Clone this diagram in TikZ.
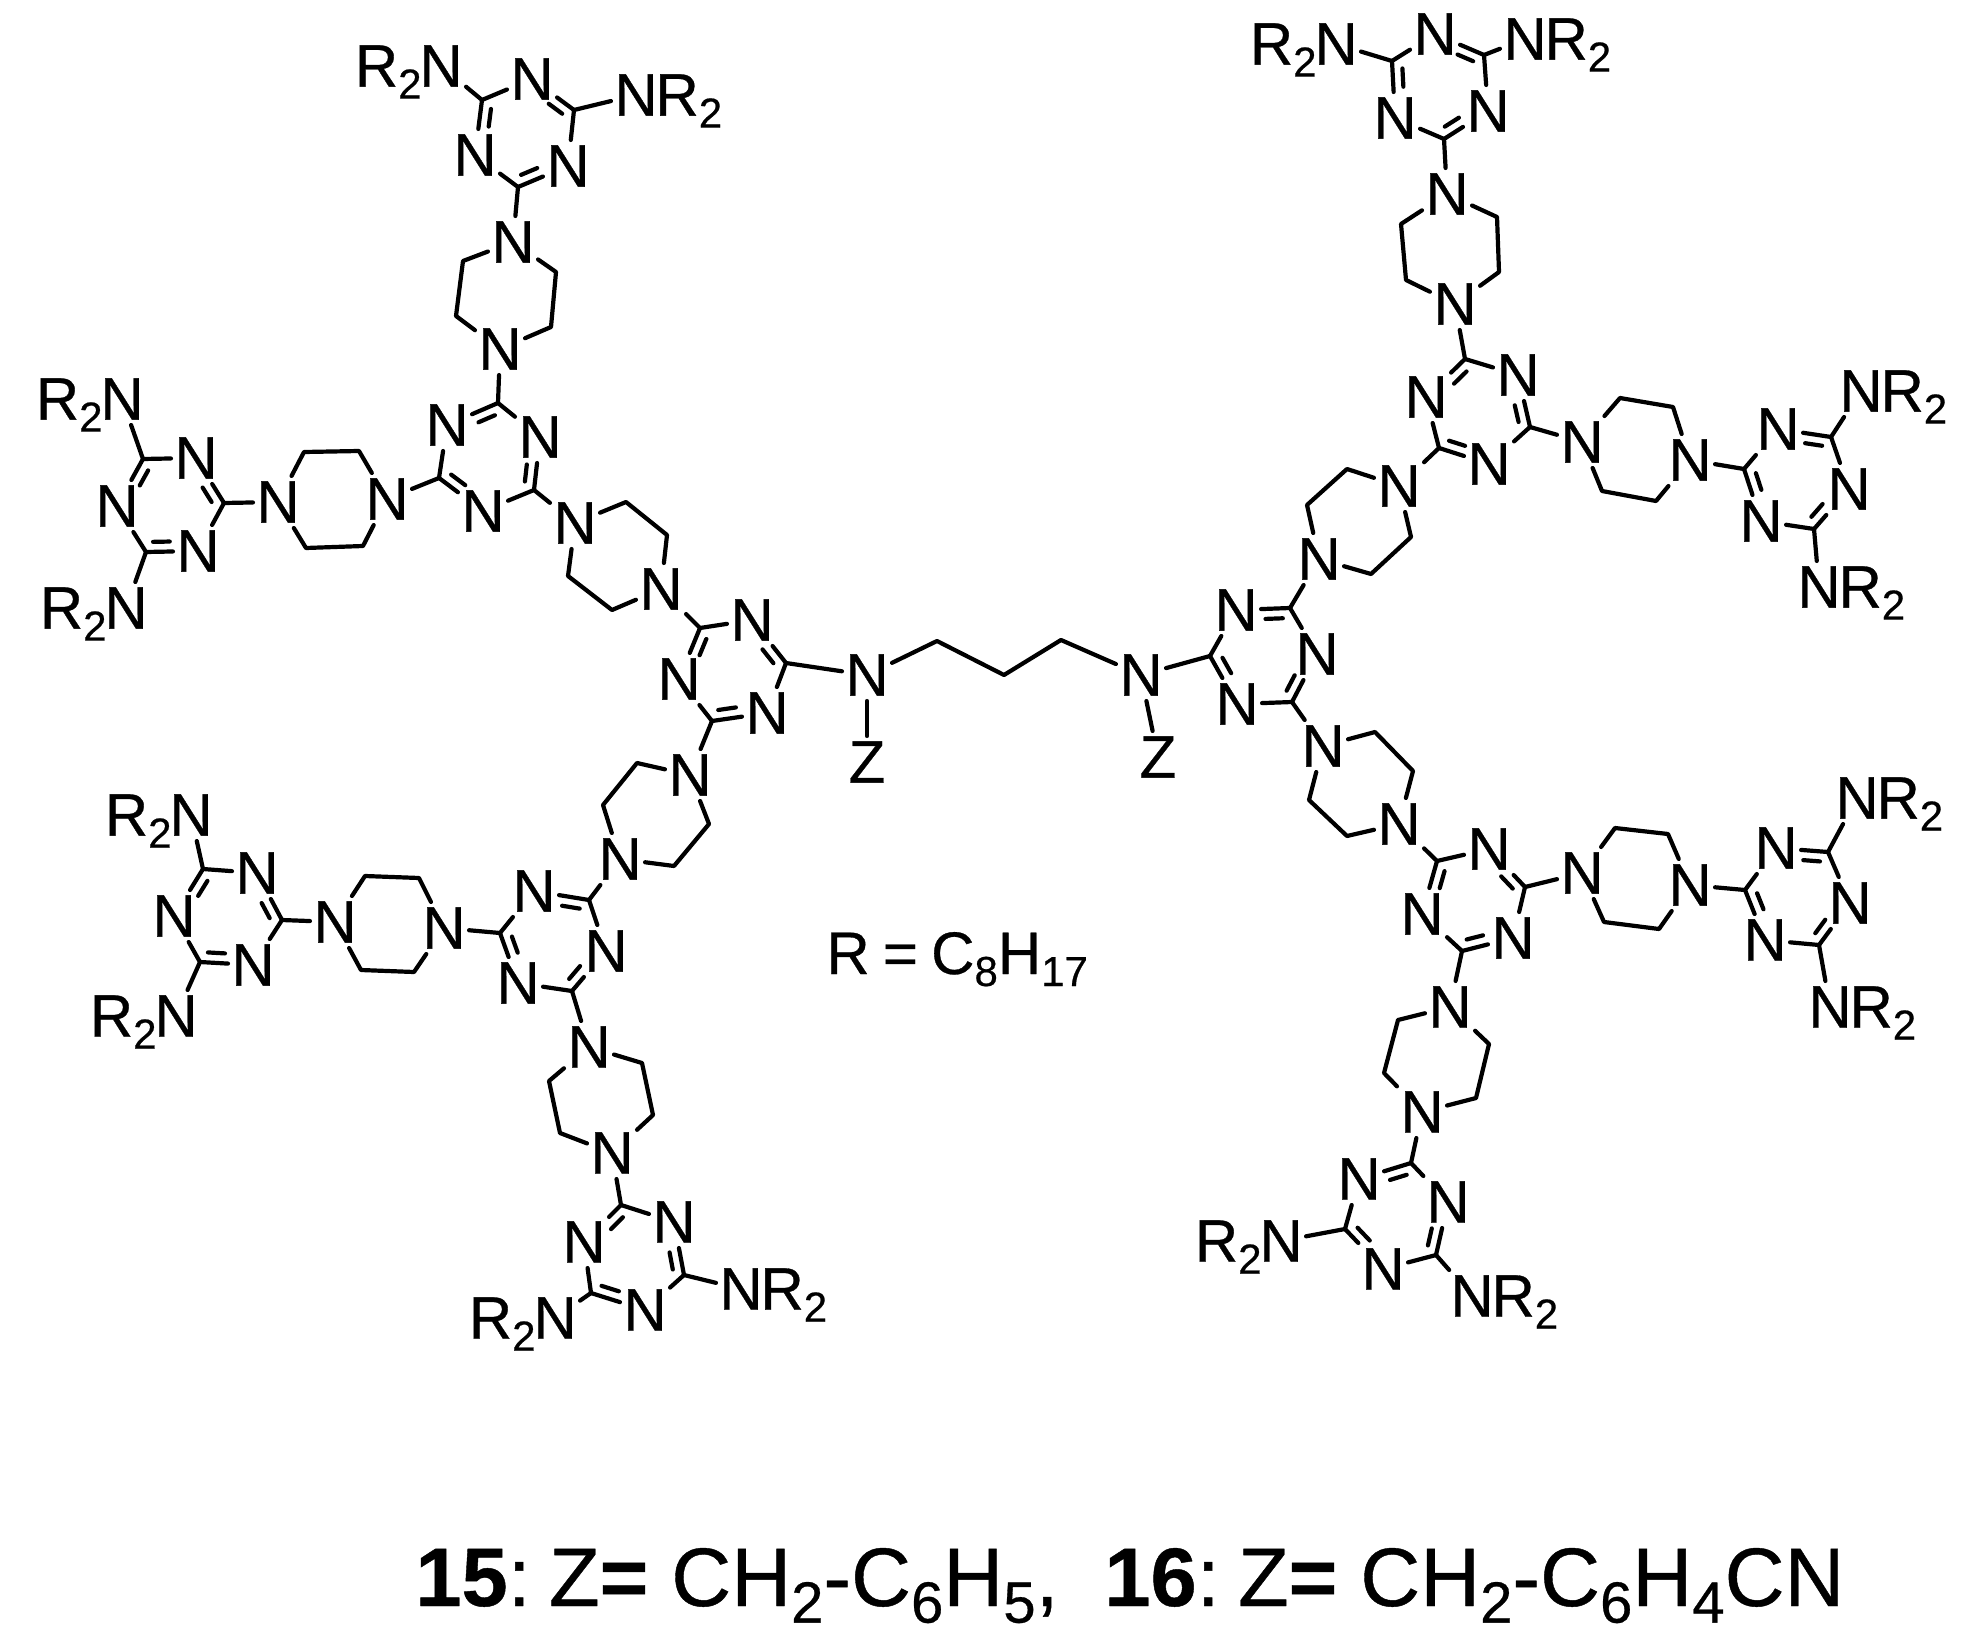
\documentclass[tikz,border=0pt]{standalone}
\usepackage{fontspec}
\usepackage{graphicx}
\usetikzlibrary{calc}
\setmainfont[RawFeature={embolden=0.5}]{Liberation Sans}
\newcommand{\subnum}[1]{\raisebox{-0.2em}{\scalebox{0.7}{#1}}}
\tikzset{
	bond/.style={line width=2.1pt,line cap=round,line join=round},
	atom/.style={inner xsep=1.5pt,inner ysep=2.5pt,font=\fontsize{30pt}{32pt}\selectfont},
	tag/.style={inner sep=0pt,anchor=base east,xshift=3pt,font=\fontsize{30pt}{32pt}\selectfont},
	gat/.style={inner sep=0pt,anchor=base west,xshift=-3pt,font=\fontsize{30pt}{32pt}\selectfont},
	note/.style={inner sep=0pt,anchor=base west,font=\fontsize{30pt}{32pt}\selectfont},
	capt/.style={inner sep=0pt,anchor=base west,font=\fontsize{41.5pt}{44pt}\selectfont}
}
% double bond: ring side is on the left going from carbon to nitrogen
\newcommand{\dbl}[2]{
	\draw[bond] (#1) -- (#2);
	\draw[bond] ($(#1)!0.14!(#2)!5pt!90:(#2)$) -- ($(#1)!0.46!(#2)!5pt!90:(#2)$);
}
% ring atoms go clockwise: C N C N C N
\newcommand{\triazine}[7]{
	\coordinate (#1c1) at (#2);
	\node[atom] (#1n1) at (#3) {N};
	\coordinate (#1c2) at (#4);
	\node[atom] (#1n2) at (#5) {N};
	\coordinate (#1c3) at (#6);
	\node[atom] (#1n3) at (#7) {N};
	\draw[bond] (#1c1) -- (#1n1);
	\draw[bond] (#1c2) -- (#1n2);
	\draw[bond] (#1c3) -- (#1n3);
	\dbl{#1c2}{#1n1}
	\dbl{#1c3}{#1n2}
	\dbl{#1c1}{#1n3}
}
% ring atoms go clockwise: N C C N C C
\newcommand{\piperazine}[7]{
	\node[atom] (#1n1) at (#2) {N};
	\coordinate (#1c1) at (#3);
	\coordinate (#1c2) at (#4);
	\node[atom] (#1n2) at (#5) {N};
	\coordinate (#1c3) at (#6);
	\coordinate (#1c4) at (#7);
	\draw[bond] (#1n1) -- (#1c1) -- (#1c2) -- (#1n2) -- (#1c3) -- (#1c4) -- (#1n1);
}
\newcommand{\amineL}[2]{
	\node[atom] (#1) at (#2) {N};
	\node[tag] (#1r) at (#1.base west) {R\subnum{2}};
}
\newcommand{\amineR}[2]{
	\node[atom] (#1) at (#2) {N};
	\node[gat] (#1r) at (#1.base east) {R\subnum{2}};
}
\begin{document}
\begin{tikzpicture}[x=0.5pt,y=-0.5pt]
	\useasboundingbox (0,0) rectangle (1968,1647);
	% left half
	\triazine{ta}{700,628}{752,620}{786,663}{767,713}{712,721}{679,679}
	\triazine{tb}{498,403}{540,437}{534,490}{483,511}{439,478}{447,425}
	\triazine{tc}{482,100}{532,79}{574,110}{568,166}{518,187}{475,155}
	\triazine{td}{143,459}{196,458}{224,503}{198,551}{146,552}{117,506}
	\triazine{te}{589,900}{606,951}{572,991}{518,983}{500,933}{534,891}
	\triazine{tf}{203,869}{257,873}{282,920}{253,965}{200,962}{174,916}
	\triazine{tg}{621,1205}{674,1222}{684,1275}{645,1310}{591,1293}{584,1242}
	\piperazine{pa}{513,242}{556,272}{551,327}{500,349}{456,316}{463,261}
	\piperazine{pb}{278,502}{304,452}{359,451}{387,499}{363,546}{306,548}
	\piperazine{pc}{575,523}{626,502}{667,535}{661,589}{612,610}{568,576}
	\piperazine{pd}{690,775}{709,824}{674,866}{620,859}{603,805}{637,763}
	\piperazine{pe}{335,922}{365,876}{419,878}{444,928}{414,972}{361,970}
	\piperazine{pf}{589,1047}{642,1063}{653,1115}{612,1153}{560,1133}{549,1081}
	% right half
	\triazine{th}{1210,656}{1236,610}{1290,608}{1317,654}{1292,702}{1237,704}
	\triazine{ti}{1465,359}{1518,375}{1530,427}{1489,464}{1439,448}{1426,397}
	\triazine{tj}{1392,61}{1435,34}{1484,55}{1488,111}{1444,139}{1395,118}
	\triazine{tk}{1744,469}{1778,429}{1831,437}{1849,489}{1814,529}{1761,521}
	\triazine{tl}{1437,861}{1489,849}{1525,887}{1513,938}{1462,951}{1422,914}
	\triazine{tm}{1745,890}{1776,848}{1828,852}{1850,903}{1819,945}{1765,940}
	\triazine{tn}{1411,1163}{1448,1202}{1436,1255}{1383,1269}{1345,1229}{1359,1179}
	\piperazine{pg}{1399,486}{1411,537}{1371,574}{1319,559}{1307,505}{1347,469}
	\piperazine{ph}{1447,194}{1497,217}{1499,272}{1455,304}{1406,280}{1401,224}
	\piperazine{pi}{1582,442}{1620,398}{1673,407}{1690,460}{1656,501}{1602,491}
	\piperazine{pj}{1323,746}{1375,732}{1413,771}{1399,824}{1347,836}{1309,800}
	\piperazine{pk}{1582,873}{1615,828}{1668,834}{1690,885}{1659,929}{1604,922}
	\piperazine{pl}{1450,1007}{1489,1044}{1476,1098}{1422,1112}{1384,1073}{1398,1020}
	% end groups
	\amineL{aa}{441,66}
	\amineR{ab}{636,95}
	\amineL{ac}{122,399}
	\amineL{ad}{126,608}
	\amineL{ae}{191,815}
	\amineL{af}{176,1016}
	\amineL{ag}{555,1318}
	\amineR{ah}{741,1289}
	\amineL{ai}{1336,44}
	\amineR{aj}{1525,39}
	\amineR{ak}{1861,391}
	\amineR{al}{1819,587}
	\amineR{am}{1857,798}
	\amineR{an}{1830,1007}
	\amineL{ao}{1281,1241}
	\amineR{ap}{1472,1296}
	% linker
	\node[atom] (nl) at (867,675) {N};
	\node[atom] (zl) at (867,762) {Z};
	\node[atom] (nr) at (1141,675) {N};
	\node[atom] (zr) at (1158,757) {Z};
	\coordinate (ch1) at (937,641);
	\coordinate (ch2) at (1004,675);
	\coordinate (ch3) at (1061,640);
	\draw[bond] (nl) -- (ch1) -- (ch2) -- (ch3) -- (nr);
	\path[bond]
		(nl) edge (zl)
		(nl) edge (tac2)
		(nr) edge (zr)
		(nr) edge (thc1)
		(tcc3) edge (pan1)
		(pan2) edge (tbc1)
		(tbc3) edge (pbn2)
		(pbn1) edge (tdc2)
		(tbc2) edge (pcn1)
		(pcn2) edge (tac1)
		(tac3) edge (pdn1)
		(pdn2) edge (tec1)
		(tec3) edge (pen2)
		(pen1) edge (tfc2)
		(tec2) edge (pfn1)
		(pfn2) edge (tgc1)
		(thc2) edge (pgn2)
		(pgn1) edge (tic3)
		(tic1) edge (phn2)
		(phn1) edge (tjc3)
		(tic2) edge (pin1)
		(pin2) edge (tkc1)
		(thc3) edge (pjn1)
		(pjn2) edge (tlc1)
		(tlc2) edge (pkn1)
		(pkn2) edge (tmc1)
		(tlc3) edge (pln1)
		(pln2) edge (tnc1)
		(tcc1) edge (aa)
		(tcc2) edge (ab)
		(tdc1) edge (ac)
		(tdc3) edge (ad)
		(tfc1) edge (ae)
		(tfc3) edge (af)
		(tgc3) edge (ag)
		(tgc2) edge (ah)
		(tjc1) edge (ai)
		(tjc2) edge (aj)
		(tkc2) edge (ak)
		(tkc3) edge (al)
		(tmc2) edge (am)
		(tmc3) edge (an)
		(tnc3) edge (ao)
		(tnc2) edge (ap);
	\node[note] (rdef) at (826,974) {R\hspace{0.22em}=\hspace{0.22em}C\subnum{8}H\subnum{17}};
	\node[capt] (cpa) at (415,1606) {\textbf{15}:\hspace{0.22em}Z\textbf{=} CH\subnum{2}-C\subnum{6}H\subnum{5},};
	\node[capt] (cpb) at (1104,1606) {\textbf{16}:\hspace{0.22em}Z\textbf{=} CH\subnum{2}-C\subnum{6}H\subnum{4}CN};
\end{tikzpicture}
\end{document}
